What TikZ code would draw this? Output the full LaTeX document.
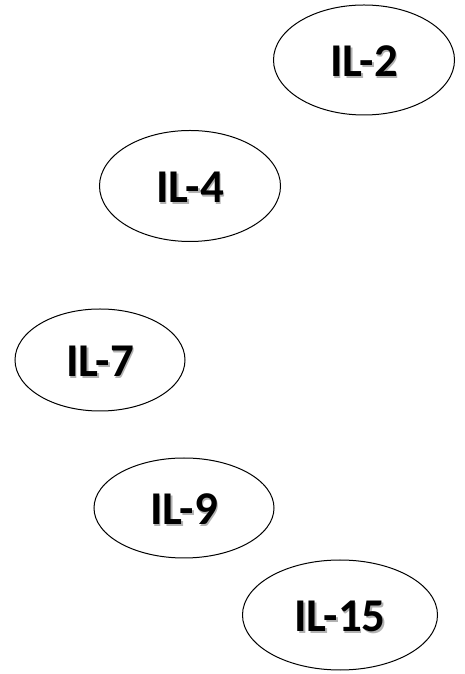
\documentclass[tikz,border=0pt]{standalone}
\usepackage{fontspec}
\setmainfont{Carlito}
\usetikzlibrary{shapes.geometric}
\newcommand\shtxt[1]{\makebox[0pt][l]{\hspace{1.8pt}\raisebox{-2pt}{\textcolor{black!30}{#1}}}#1}
\tikzset{
  il/.style={draw=black, line width=1pt, ellipse, inner sep=0pt},
  lbl/.style={font=\fontsize{47}{49}\selectfont\bfseries, text=black},
}
\begin{document}
\begin{tikzpicture}[x=1pt,y=1pt]
\useasboundingbox (0,0) rectangle (464,674);
\node[il, minimum width=181pt, minimum height=110pt] (il2) at (364,614) {};
\node[il, minimum width=181pt, minimum height=111pt] (il4) at (190,488) {};
\node[il, minimum width=170pt, minimum height=102pt] (il7) at (100,314) {};
\node[il, minimum width=180pt, minimum height=100pt] (il9) at (184,166) {};
\node[il, minimum width=195pt, minimum height=110pt] (il15) at (340,59) {};
\foreach \n/\t in {il2/IL-2, il4/IL-4, il7/IL-7, il9/IL-9, il15/IL-15}{
  \node[lbl] at ([yshift=-2pt]\n.center) {\shtxt{\t}};
}
\end{tikzpicture}
\end{document}
